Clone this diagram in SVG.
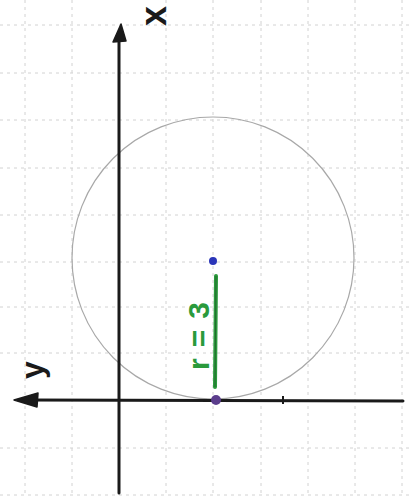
<svg xmlns="http://www.w3.org/2000/svg" width="409" height="497" viewBox="0 0 409 497">
<style>
.grid line{stroke:#d2d2d2;stroke-width:1;stroke-dasharray:3 4}
.axis{stroke:#1a1a1a;stroke-width:3;stroke-linecap:round;fill:none}
.head{fill:#1a1a1a;stroke:#1a1a1a;stroke-width:1.5;stroke-linejoin:round}
.lbl{font-family:"Liberation Sans","DejaVu Sans",sans-serif;font-weight:bold}
</style>
<rect width="409" height="497" fill="#ffffff"/>
<g class="grid">
<line x1="25" y1="0" x2="25" y2="497"/>
<line x1="72" y1="0" x2="72" y2="497"/>
<line x1="166" y1="0" x2="166" y2="497"/>
<line x1="213" y1="0" x2="213" y2="497"/>
<line x1="261" y1="0" x2="261" y2="497"/>
<line x1="308" y1="0" x2="308" y2="497"/>
<line x1="355" y1="0" x2="355" y2="497"/>
<line x1="402" y1="0" x2="402" y2="497"/>
<line x1="0" y1="25" x2="409" y2="25"/>
<line x1="0" y1="73" x2="409" y2="73"/>
<line x1="0" y1="120" x2="409" y2="120"/>
<line x1="0" y1="168" x2="409" y2="168"/>
<line x1="0" y1="215" x2="409" y2="215"/>
<line x1="0" y1="262" x2="409" y2="262"/>
<line x1="0" y1="307" x2="409" y2="307"/>
<line x1="0" y1="353" x2="409" y2="353"/>
<line x1="0" y1="448" x2="409" y2="448"/>
<line x1="0" y1="495" x2="409" y2="495"/>
</g>
<g id="circle">
<circle cx="213" cy="258" r="141" fill="none" stroke="#a8a8a8" stroke-width="1.2"/>
</g>
<g id="connectors">
<line class="axis" x1="119" y1="36" x2="119" y2="493"/>
<path class="head" d="M121,24 L126,41 L113,42 Z"/>
<line class="axis" x1="30" y1="400" x2="403" y2="401"/>
<path class="head" d="M14,400 L38,393 L37,407 Z"/>
<line x1="283" y1="396" x2="283" y2="404" stroke="#1a1a1a" stroke-width="2"/>
<line x1="216" y1="276" x2="215" y2="387" stroke="#2a9a3c" stroke-width="4" stroke-linecap="round"/>
<line x1="216" y1="276" x2="215" y2="387" stroke="#1c3a20" stroke-width="1" opacity="0.5"/>
</g>
<g id="center">
<circle cx="213" cy="261" r="4" fill="#2a35b8"/>
</g>
<g id="point">
<circle cx="216" cy="400" r="5" fill="#5b3d8c"/>
</g>
<g id="label-x">
<text class="lbl" x="0" y="0" font-size="36" text-anchor="middle" fill="#1a1a1a" transform="translate(166,16) rotate(-90)">x</text>
</g>
<g id="label-y">
<text class="lbl" x="0" y="0" font-size="32" text-anchor="middle" fill="#1a1a1a" transform="translate(43,370) rotate(-90)">y</text>
</g>
<g id="label-r">
<text class="lbl" x="0" y="0" font-size="30" text-anchor="middle" textLength="68" lengthAdjust="spacing" fill="#2a9a3c" transform="translate(209,336) rotate(-90)">r=3</text>
</g>
</svg>
